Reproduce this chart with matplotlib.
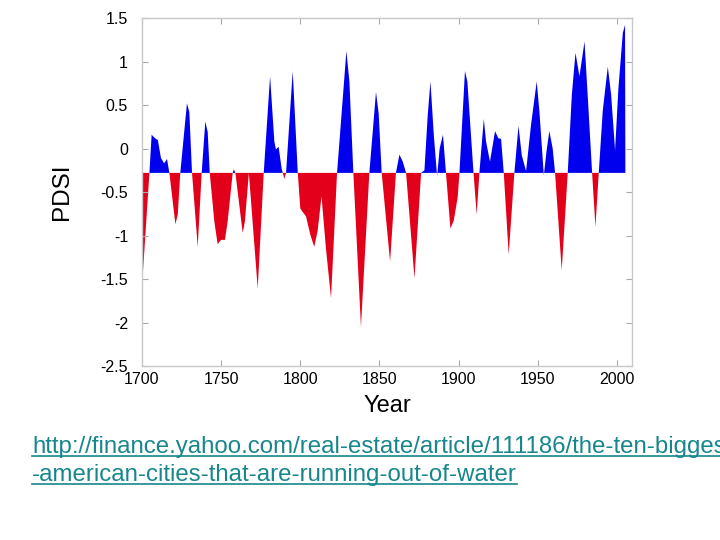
import matplotlib
matplotlib.use("Agg")
import matplotlib.pyplot as plt
from matplotlib.lines import Line2D
import numpy as np

# PDSI reconstruction
years = [
    1700, 1704.7, 1706.1, 1707, 1708.8, 1710, 1712, 1714, 1715.8, 1717.3,
    1721.1, 1722.6, 1724.2, 1728.4, 1729.9, 1731.6, 1735.2, 1737.7, 1740, 1741.5,
    1742.8, 1745.7, 1747.8, 1749.9, 1752.4, 1754.1, 1757.3, 1758, 1759, 1763.6,
    1765, 1767.5, 1773.1, 1776.9, 1780.9, 1783.6, 1784.6, 1786.3, 1788.2, 1789.9,
    1791, 1795.2, 1798.4, 1800, 1801.5, 1803.6, 1806.3, 1808.8, 1810.9, 1813.4,
    1816.2, 1819.4, 1823.2, 1829.1, 1831, 1833.5, 1838.3, 1843.6, 1847.8, 1849.5,
    1851.4, 1856.7, 1860.4, 1862.6, 1864.7, 1866.8, 1872.1, 1876.3, 1878.4, 1880.5,
    1882.2, 1884.3, 1886.4, 1888, 1890.1, 1892, 1894.8, 1896.9, 1899.4, 1900.5,
    1904, 1905.5, 1909.4, 1911.4, 1913.1, 1915.9, 1917.3, 1919.8, 1923, 1925,
    1926.8, 1928.5, 1931.6, 1935.2, 1937.8, 1939.9, 1942.6, 1945.7, 1949.3, 1951,
    1953.8, 1955.5, 1957.3, 1959.4, 1960.9, 1965.1, 1968.9, 1971.5, 1973.8, 1976.3,
    1979.5, 1981.6, 1984.3, 1986.4, 1988.5, 1991, 1994.2, 1996.3, 1998.8, 2000.9,
    2003.7, 2005.1, 2005.3,
]
pdsi = [
    -1.59, -0.28, 0.16, 0.14, 0.11, 0.10, -0.11, -0.17, -0.12, -0.28,
    -0.87, -0.76, -0.28, 0.52, 0.42, -0.28, -1.13, -0.28, 0.31, 0.19,
    -0.28, -0.84, -1.10, -1.05, -1.05, -0.84, -0.28, -0.24, -0.28, -0.97,
    -0.84, -0.28, -1.61, -0.28, 0.83, 0.08, -0.01, 0.02, -0.23, -0.35,
    -0.28, 0.89, -0.28, -0.69, -0.73, -0.78, -0.99, -1.13, -0.95, -0.55,
    -1.15, -1.72, -0.28, 1.12, 0.77, -0.28, -2.05, -0.28, 0.65, 0.40,
    -0.28, -1.30, -0.28, -0.07, -0.15, -0.28, -1.49, -0.28, -0.25, 0.39,
    0.77, 0.16, -0.32, 0.00, 0.16, -0.28, -0.92, -0.83, -0.56, -0.28,
    0.89, 0.77, -0.28, -0.76, -0.28, 0.34, 0.08, -0.15, 0.20, 0.12,
    0.11, -0.28, -1.22, -0.28, 0.26, -0.08, -0.26, 0.27, 0.77, 0.43,
    -0.31, -0.03, 0.20, 0.00, -0.28, -1.40, -0.28, 0.62, 1.10, 0.83,
    1.23, 0.58, -0.28, -0.90, -0.28, 0.43, 0.94, 0.62, -0.02, 0.69,
    1.33, 1.42, -0.28,
]
baseline = -0.28

x_ticks = [1700, 1750, 1800, 1850, 1900, 1950, 2000]
y_ticks = [1.5, 1, 0.5, 0, -0.5, -1, -1.5, -2, -2.5]
y_tick_labels = ['1.5', '1', '0.5', '0', '-0.5', '-1', '-1.5', '-2', '-2.5']

url_lines = [
    "http://finance.yahoo.com/real-estate/article/111186/the-ten-biggest",
    "-american-cities-that-are-running-out-of-water",
]

plt.rcParams['font.family'] = ['Liberation Sans', 'DejaVu Sans']

fig = plt.figure(figsize=(7.2, 5.4), dpi=100)
ax = fig.add_axes([0.1972, 0.3222, 0.6806, 0.6444])

x = np.array(years)
y = np.array(pdsi)
ax.fill_between(x, y, baseline, where=y >= baseline, interpolate=True,
                color='#0000ee', linewidth=0)
ax.fill_between(x, y, baseline, where=y <= baseline, interpolate=True,
                color='#e2001a', linewidth=0)

ax.set_xlim(1700, 2009.5)
ax.set_ylim(-2.5, 1.5)
ax.set_xticks(x_ticks)
ax.set_xticklabels([str(t) for t in x_ticks])
ax.set_yticks(y_ticks)
ax.set_yticklabels(y_tick_labels)

for s in ax.spines.values():
    s.set_color('#c8c8c8')
    s.set_linewidth(1.0)
ax.tick_params(direction='in', length=4, color='#aaaaaa', labelsize=11.5,
               top=True, right=True)
ax.tick_params(axis='y', pad=10)
ax.tick_params(axis='x', pad=4)

ax.set_xlabel('Year', fontsize=17, labelpad=6)
ax.set_ylabel('PDSI', fontsize=17.5, labelpad=20)

# link text, underlined like a hyperlink
link_color = '#17878c'
renderer = fig.canvas.get_renderer()
for i, line in enumerate(url_lines):
    ybase = 1 - (453 + 28 * i) / 540
    t = fig.text(32 / 720, ybase, line, fontsize=17.3, color=link_color,
                 va='baseline', ha='left')
    bb = t.get_window_extent(renderer=renderer)
    x1 = min(bb.x1, 720) / 720
    uy = ybase - 2.5 / 540
    fig.add_artist(Line2D([32 / 720, x1], [uy, uy], transform=fig.transFigure,
                          color=link_color, linewidth=1.2))

fig.savefig('out.png', dpi=100)
